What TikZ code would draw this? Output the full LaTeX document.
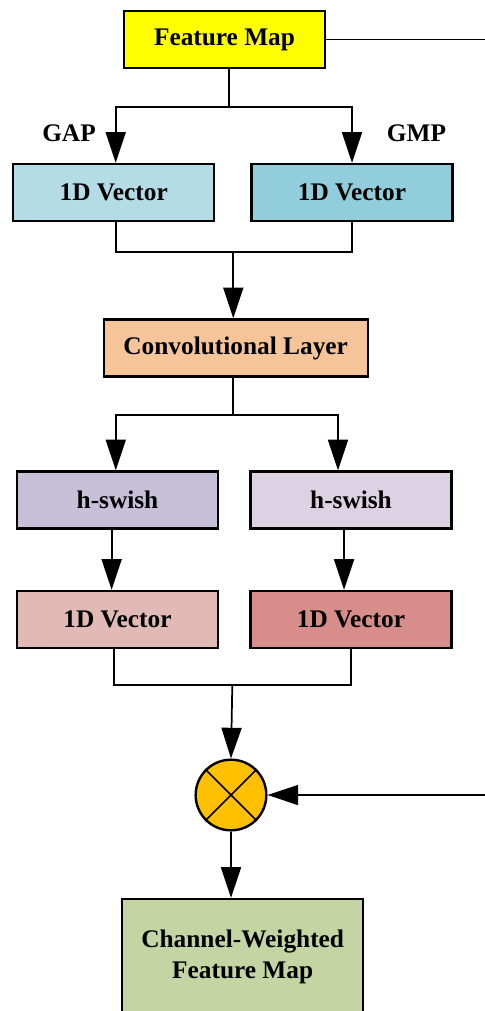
\documentclass[tikz,border=0pt]{standalone}
\usepackage{fontspec}
\setmainfont{Liberation Serif}
\usetikzlibrary{arrows.meta}

\definecolor{mapyellow}{HTML}{FFFF00}
\definecolor{gapblue}{HTML}{B4DCE6}
\definecolor{gmpblue}{HTML}{92CDDC}
\definecolor{convorange}{HTML}{F6C499}
\definecolor{swishA}{HTML}{C8BFD9}
\definecolor{swishB}{HTML}{DCD2E3}
\definecolor{vecA}{HTML}{E1B9B5}
\definecolor{vecB}{HTML}{D78E8A}
\definecolor{muloran}{HTML}{FFC000}
\definecolor{outgreen}{HTML}{C4D4A2}

\begin{document}
\begin{tikzpicture}[x=0.75pt,y=-0.75pt,->,>={Triangle[length=23pt,width=15pt]},
  line width=1.3pt,
  block/.style={rectangle,draw,line width=1.8pt,minimum width=150.75pt,
    minimum height=42.75pt,inner sep=0pt,font=\fontsize{19}{23}\selectfont\bfseries},
  tag/.style={font=\fontsize{19}{23}\selectfont\bfseries},
  mul node/.style={circle,draw,line width=1.8pt,fill=muloran,minimum size=53pt,inner sep=0pt}]

  \useasboundingbox (0,0) rectangle (485,1011);
  \clip (0,0) rectangle (485,1011);

  \node[block,fill=mapyellow] (fm) at (224.5,39.5) {Feature Map};
  \node[block,fill=gapblue] (gap) at (113.7,192.5) {1D Vector};
  \node[block,fill=gmpblue] (gmp) at (352,192.5) {1D Vector};
  \node[tag] (gaplbl) at (69,133) {GAP};
  \node[tag] (gmplbl) at (416.5,133) {GMP};
  \node[block,fill=convorange,minimum width=198pt] (conv) at (235.7,348) {Convolutional Layer};
  \node[block,fill=swishA] (hs1) at (117.5,500) {h-swish};
  \node[block,fill=swishB] (hs2) at (351,500) {h-swish};
  \node[block,fill=vecA] (w1) at (117.5,619.5) {1D Vector};
  \node[block,fill=vecB] (w2) at (351,619.5) {1D Vector};
  \node[mul node] (mul) at (231,795) {};
  \draw[-] (mul.north west) -- (mul.south east);
  \draw[-] (mul.north east) -- (mul.south west);
  \node[block,fill=outgreen,minimum width=180.75pt,minimum height=87pt,
    align=center,font=\fontsize{19}{23.25}\selectfont\bfseries] (cw) at (242.7,957)
    {Channel-Weighted\\Feature Map};

  \coordinate (j1) at (228.7,107);
  \coordinate (j2) at (233.3,251.7);
  \coordinate (j3) at (233,415);
  \coordinate (j4) at (232.3,685);
  \coordinate (side) at (530,795);

  % pooling branches
  \draw[-] (fm.south -| j1) -- (j1);
  \draw (j1) -| ([xshift=1.5pt]gap.north);
  \draw (j1) -| (gmp.north);
  \draw[-] ([xshift=1.5pt]gap.south) |- (j2) -| (gmp.south);
  \draw (j2) -- (conv.north -| j2);

  % activation branches
  \draw[-] (conv.south -| j3) -- (j3);
  \draw (j3) -| ([xshift=-1.3pt]hs1.north);
  \draw (j3) -| ([xshift=-9.75pt]hs2.north);
  \draw ([xshift=-4.4pt]hs1.south) -- ([xshift=-4.4pt]w1.north);
  \draw ([xshift=-5.2pt]hs2.south) -- ([xshift=-5.2pt]w2.north);
  \draw[-] ([xshift=-2.4pt]w1.south) |- (j4) -| (w2.south);

  % weighting
  \draw (j4) -- (mul.north);
  \draw (fm.east) -| (side) -- (mul.east);
  \draw (mul.south) -- (mul.south |- cw.north);

\end{tikzpicture}
\end{document}
